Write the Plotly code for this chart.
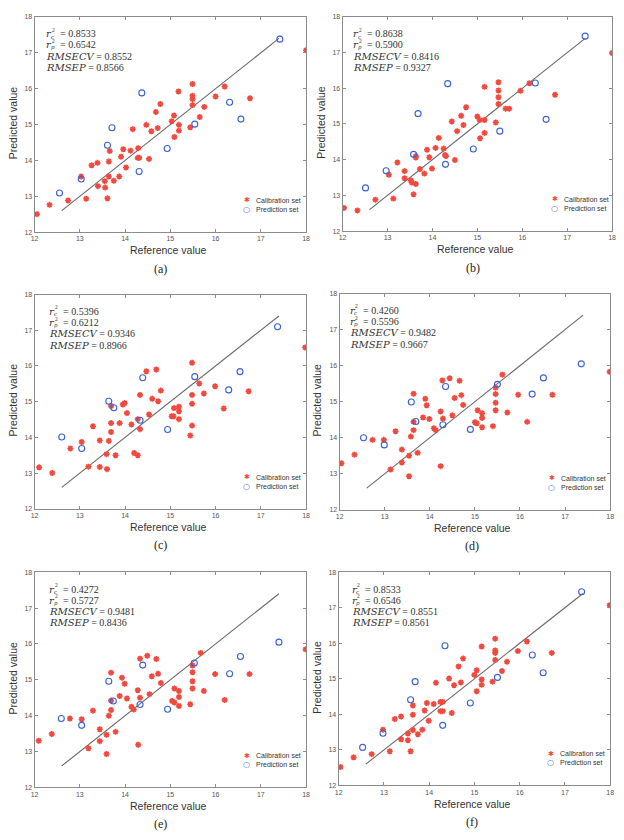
import plotly.graph_objects as go

# ---------------- data ----------------
tick_vals = [12, 13, 14, 15, 16, 17, 18]
line_x = [12.6, 17.4]
line_y = [12.6, 17.4]

cal_x_a = [12.05,12.33,12.74,13.03,13.14,13.26,13.39,13.40,13.55,13.56,13.61,13.64,13.64,13.66,13.75,13.87,13.91,13.96,14.02,14.12,14.17,14.28,14.29,14.31,14.47,14.53,14.58,14.68,14.72,14.78,15.03,15.08,15.09,15.18,15.19,15.19,15.44,15.49,15.49,15.49,15.49,15.65,15.75,16.00,16.20,16.76,18.00]
cal_y_a = [12.50,12.76,12.88,13.55,12.93,13.86,13.93,13.28,13.42,13.24,12.94,13.55,13.97,14.26,13.43,13.55,14.10,14.31,13.80,14.27,14.87,14.07,14.34,14.07,14.99,14.04,14.81,15.35,14.90,15.57,15.09,15.25,14.65,15.92,14.99,14.83,14.92,16.13,15.80,15.71,15.54,15.21,15.49,15.78,16.06,15.73,17.07]
pred_x_a = [12.55,13.03,13.61,13.71,14.31,14.37,14.93,15.54,16.31,16.56,17.42]
pred_y_a = [13.09,13.48,14.42,14.91,13.69,15.88,14.33,15.01,15.62,15.15,17.38]

cal_x_b = [12.03,12.33,12.73,13.03,13.13,13.22,13.38,13.38,13.52,13.54,13.58,13.63,13.63,13.63,13.72,13.82,13.88,13.93,13.99,14.07,14.14,14.25,14.28,14.30,14.43,14.50,14.55,14.64,14.69,14.75,15.00,15.05,15.06,15.16,15.16,15.16,15.41,15.47,15.47,15.47,15.47,15.63,15.71,15.96,16.16,16.73,18.00]
cal_y_b = [12.65,12.58,12.88,13.58,12.91,13.92,13.68,13.48,13.42,13.36,13.03,13.32,14.06,14.10,13.74,13.61,14.28,14.07,13.75,14.33,14.61,14.31,14.13,14.10,15.07,13.99,14.80,15.23,14.97,15.47,15.21,15.11,14.60,16.04,15.11,14.75,15.04,16.17,15.94,15.75,15.56,15.43,15.43,15.93,16.14,15.82,16.99]
pred_x_b = [12.51,12.97,13.58,13.68,14.29,14.34,14.91,15.50,16.29,16.53,17.40]
pred_y_b = [13.21,13.69,14.15,15.29,13.87,16.13,14.30,14.80,16.15,15.13,17.46]

cal_x_c = [12.10,12.39,12.79,13.04,13.19,13.29,13.44,13.44,13.59,13.60,13.64,13.69,13.69,13.69,13.79,13.88,13.95,13.99,14.04,14.14,14.20,14.28,14.28,14.33,14.33,14.47,14.53,14.60,14.69,14.73,14.79,15.03,15.07,15.08,15.19,15.19,15.19,15.44,15.48,15.48,15.48,15.48,15.64,15.74,15.99,16.18,16.73,17.98]
cal_y_c = [13.16,13.00,13.69,13.87,13.18,14.31,13.91,13.17,13.53,13.11,13.90,14.15,14.40,14.88,13.50,14.40,14.92,14.96,14.68,14.36,13.56,13.50,14.51,14.23,15.19,15.85,14.64,15.08,15.90,15.01,15.31,14.59,14.59,14.82,14.86,14.73,14.51,14.05,16.09,15.19,14.94,14.33,15.51,15.23,15.43,14.81,15.29,16.52]
pred_x_c = [12.60,13.04,13.64,13.75,14.33,14.39,14.94,15.54,16.29,16.54,17.37]
pred_y_c = [14.01,13.69,15.01,14.83,14.48,15.67,14.22,15.70,15.33,15.84,17.10]

cal_x_d = [12.04,12.33,12.73,12.98,13.13,13.24,13.38,13.38,13.54,13.54,13.58,13.64,13.64,13.64,13.73,13.85,13.90,13.93,13.99,14.09,14.13,14.24,14.24,14.29,14.28,14.44,14.50,14.55,14.66,14.70,14.74,15.00,15.04,15.06,15.16,15.16,15.16,15.40,15.46,15.46,15.46,15.46,15.61,15.72,15.96,16.16,16.72,17.99]
cal_y_d = [13.29,13.53,13.94,13.94,13.12,14.18,13.67,13.31,13.50,12.93,14.03,14.21,14.44,15.22,13.58,14.56,15.08,14.90,14.52,14.26,14.21,13.21,14.73,14.53,15.59,15.65,14.62,15.10,15.58,15.18,14.91,14.43,14.40,14.76,14.68,14.55,14.29,14.32,15.39,15.21,14.97,14.76,15.75,14.70,15.19,14.44,15.19,15.83]
pred_x_d = [12.53,12.99,13.59,13.69,14.29,14.35,14.90,15.50,16.27,16.52,17.36]
pred_y_d = [14.00,13.80,14.99,14.45,14.36,15.42,14.23,15.48,15.21,15.66,16.05]

cal_x_e = [12.09,12.38,12.78,13.04,13.19,13.29,13.44,13.44,13.59,13.59,13.64,13.69,13.69,13.69,13.79,13.88,13.93,13.99,14.04,14.14,14.19,14.29,14.28,14.33,14.33,14.49,14.54,14.59,14.69,14.73,14.79,15.04,15.09,15.09,15.19,15.19,15.19,15.44,15.49,15.49,15.49,15.49,15.67,15.74,15.99,16.20,16.75,17.99]
cal_y_e = [13.30,13.49,13.92,13.90,13.09,14.14,13.62,13.29,13.47,12.93,14.00,14.16,14.42,15.20,13.55,14.55,15.06,14.89,14.48,14.25,14.17,13.19,14.71,14.50,15.59,15.67,14.60,15.10,15.58,15.17,14.91,14.41,14.37,14.76,14.69,14.52,14.27,14.32,15.40,15.21,14.96,14.76,15.75,14.69,15.16,14.44,15.16,15.85]
pred_x_e = [12.59,13.04,13.64,13.74,14.33,14.39,14.94,15.53,16.31,16.55,17.40]
pred_y_e = [13.92,13.73,14.96,14.41,14.31,15.41,14.18,15.47,15.17,15.65,16.05]

cal_x_f = [12.04,12.33,12.73,12.98,13.13,13.24,13.38,13.38,13.53,13.53,13.59,13.64,13.64,13.64,13.75,13.85,13.90,13.95,13.99,14.10,14.15,14.25,14.25,14.30,14.30,14.44,14.50,14.55,14.65,14.70,14.75,15.00,15.05,15.05,15.16,15.16,15.16,15.40,15.46,15.46,15.46,15.46,15.61,15.72,15.96,16.16,16.71,17.99]
cal_y_f = [12.52,12.79,12.88,13.57,12.96,13.87,13.94,13.30,13.46,13.27,12.96,13.56,13.99,14.25,13.44,13.57,14.11,14.32,13.82,14.29,14.89,14.35,14.09,14.35,14.09,15.01,14.04,14.82,15.35,14.90,15.57,15.11,15.24,14.65,15.91,14.98,14.83,14.92,16.13,15.80,15.73,15.53,15.22,15.48,15.78,16.05,15.73,17.07]
pred_x_f = [12.53,12.98,13.59,13.69,14.30,14.35,14.91,15.51,16.28,16.52,17.37]
pred_y_f = [13.07,13.47,14.41,14.92,13.69,15.93,14.32,15.04,15.67,15.17,17.45]

stats_a = ["0.8533", "0.6542", "0.8552", "0.8566"]
stats_b = ["0.8638", "0.5900", "0.8416", "0.9327"]
stats_c = ["0.5396", "0.6212", "0.9346", "0.8966"]
stats_d = ["0.4260", "0.5596", "0.9482", "0.9667"]
stats_e = ["0.4272", "0.5727", "0.9481", "0.8436"]
stats_f = ["0.8533", "0.6546", "0.8551", "0.8561"]

captions = ["(a)", "(b)", "(c)", "(d)", "(e)", "(f)"]
x_title = "Reference value"
y_title = "Predicted value"
legend_names = ["Calibration set", "Prediction set"]

# ---------------- layout geometry (pixels) ----------------
W, H = 624, 840
panels = [
    dict(cx=cal_x_a, cy=cal_y_a, px=pred_x_a, py=pred_y_a, st=stats_a, box=(31, 306, 13, 230), tx=11, capx=0.464),
    dict(cx=cal_x_b, cy=cal_y_b, px=pred_x_b, py=pred_y_b, st=stats_b, box=(343, 616, 13, 229), tx=10, capx=0.484),
    dict(cx=cal_x_c, cy=cal_y_c, px=pred_x_c, py=pred_y_c, st=stats_c, box=(31, 306, 293, 509), tx=14, capx=0.464),
    dict(cx=cal_x_d, cy=cal_y_d, px=pred_x_d, py=pred_y_d, st=stats_d, box=(340, 614, 292, 510), tx=9, capx=0.49),
    dict(cx=cal_x_e, cy=cal_y_e, px=pred_x_e, py=pred_y_e, st=stats_e, box=(31, 306, 573, 790), tx=14, capx=0.464),
    dict(cx=cal_x_f, cy=cal_y_f, px=pred_x_f, py=pred_y_f, st=stats_f, box=(339, 614, 573, 788), tx=12, capx=0.49),
]

RED = "#f2493e"
BLUE = "#3a62d6"
AX = "#8c8c8c"
SERIF = "Liberation Serif, Times New Roman, serif"
MATH_IT = "DejaVu Serif"

fig = go.Figure()
layout = dict(
    width=W, height=H, margin=dict(l=0, r=0, t=0, b=0),
    paper_bgcolor="white", plot_bgcolor="white", showlegend=False,
    font=dict(family="Liberation Sans, Arial, sans-serif", color="#333"),
)
annotations = []

stat_offsets = [17, 28.3, 39.7, 51]
r_subs = ["c", "p"]
long_names = ["RMSECV", "RMSEP"]


def ann(xr, yr, x, y, text, size, family=SERIF, color="#333", xanchor="left", **kw):
    d = dict(xref=xr, yref=yr, x=x, y=y, xanchor=xanchor, yanchor="middle", text=text,
             showarrow=False, borderpad=0, font=dict(family=family, size=size, color=color))
    d.update(kw)
    annotations.append(d)


for i, p in enumerate(panels, start=1):
    s = "" if i == 1 else str(i)
    x0, x1, y0, y1 = p["box"]
    w, h = x1 - x0, y1 - y0
    axis_common = dict(
        range=[12, 18], tickvals=tick_vals, showgrid=False, zeroline=False,
        showline=True, linecolor=AX, linewidth=1, mirror="ticks",
        ticks="inside", ticklen=3, tickcolor=AX, tickwidth=1,
        tickfont=dict(size=7, color="#555"),
    )
    layout[f"xaxis{s}"] = dict(domain=[x0 / W, x1 / W], anchor=f"y{s}", **axis_common)
    layout[f"yaxis{s}"] = dict(domain=[1 - y1 / H, 1 - y0 / H], anchor=f"x{s}", **axis_common)

    fig.add_trace(go.Scatter(
        x=line_x, y=line_y, mode="lines", xaxis=f"x{s}", yaxis=f"y{s}",
        line=dict(color="#666", width=1.1), hoverinfo="skip"))
    fig.add_trace(go.Scatter(
        x=p["cx"], y=p["cy"], mode="markers", name=legend_names[0],
        xaxis=f"x{s}", yaxis=f"y{s}",
        marker=dict(symbol="asterisk-open", size=5, color=RED, line=dict(color=RED, width=1.6))))
    fig.add_trace(go.Scatter(
        x=p["px"], y=p["py"], mode="markers", name=legend_names[1],
        xaxis=f"x{s}", yaxis=f"y{s}",
        marker=dict(symbol="circle-open", size=6, color=BLUE, line=dict(color=BLUE, width=1.1))))

    xr, yr = f"x{s} domain", f"y{s} domain"
    tx = p["tx"]
    # statistics text: r_c^2, r_p^2 built from stacked pieces
    for k in range(2):
        off = stat_offsets[k]
        ann(xr, yr, tx / w, 1 - off / h, "<i>r</i>", 10, family=MATH_IT)
        ann(xr, yr, (tx + 5.0) / w, 1 - (off + 3.0) / h, f"<i>{r_subs[k]}</i>", 5.5, family=MATH_IT)
        ann(xr, yr, (tx + 5.2) / w, 1 - (off - 4.0) / h, "2", 5.5)
        ann(xr, yr, (tx + 13.5) / w, 1 - off / h, "= " + p["st"][k], 10)
    for k in range(2):
        off = stat_offsets[k + 2]
        ann(xr, yr, tx / w, 1 - off / h,
            f'<span style="font-family:{MATH_IT}"><i>{long_names[k]}</i></span> = {p["st"][k + 2]}', 10)
    # legend (drawn as text)
    for k, (glyph, col, name) in enumerate([("✱", RED, legend_names[0]), ("○", BLUE, legend_names[1])]):
        yy = (32 - 9.3 * k) / h
        ann(xr, yr, 214.7 / w, yy, glyph, 7 if k == 0 else 8, family="DejaVu Sans", color=col, xanchor="center")
        ann(xr, yr, 223.5 / w, yy, name, 7, family="Liberation Sans, Arial, sans-serif")
    # axis titles
    ann(xr, yr, 0.492, -18.3 / h, x_title, 10.5, family="Liberation Sans, Arial, sans-serif", xanchor="center")
    ann(xr, yr, -22 / w, 0.51, y_title, 10.5, family="Liberation Sans, Arial, sans-serif",
        xanchor="center", textangle=-90)
    # caption
    ann(xr, yr, p["capx"], -37 / h, captions[i - 1], 12, color="#222", xanchor="center")

layout["annotations"] = annotations
fig.update_layout(**layout)
fig.write_html("out.html")
